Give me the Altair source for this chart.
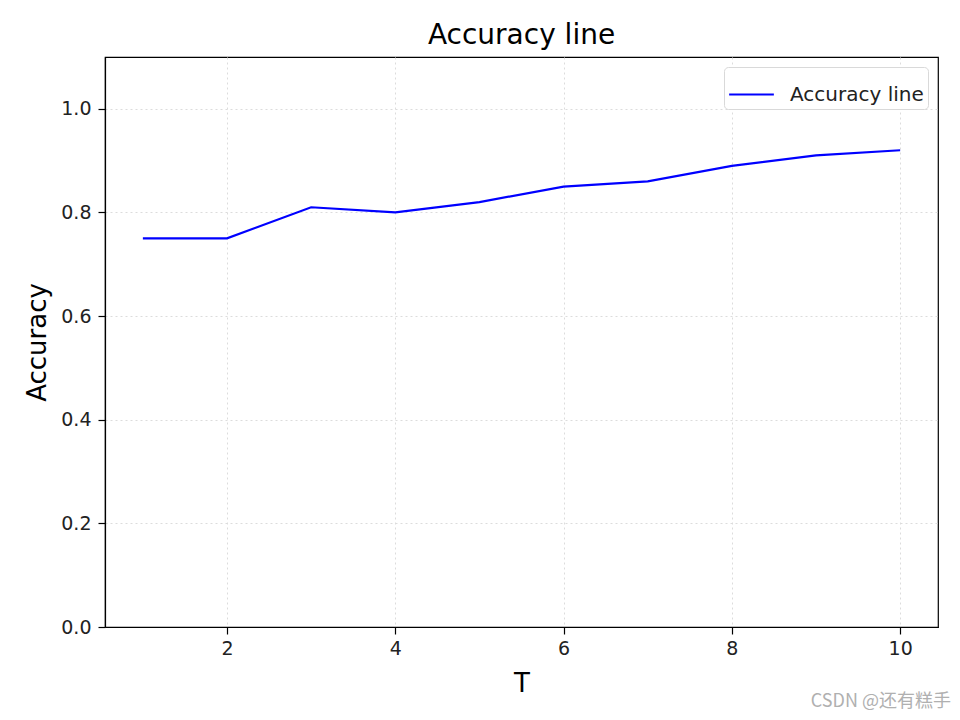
import altair as alt
import pandas as pd

t_values = [1, 2, 3, 4, 5, 6, 7, 8, 9, 10]
accuracy = [0.75, 0.75, 0.81, 0.80, 0.82, 0.85, 0.86, 0.89, 0.91, 0.92]
series_name = "Accuracy line"
x_ticks = [2, 4, 6, 8, 10]
y_ticks = [0.0, 0.2, 0.4, 0.6, 0.8, 1.0]

df = pd.DataFrame({"T": t_values, "Accuracy": accuracy, "series": [series_name] * len(t_values)})

FONT = "DejaVu Sans"

line = alt.Chart(df).mark_line(strokeWidth=2.2, clip=True).encode(
    x=alt.X("T:Q", scale=alt.Scale(domain=[0.55, 10.45], nice=False, zero=False),
            axis=alt.Axis(values=x_ticks, title="T", format="d")),
    y=alt.Y("Accuracy:Q", scale=alt.Scale(domain=[0, 1.1], nice=False),
            axis=alt.Axis(values=y_ticks, title="Accuracy", format=".1f")),
    color=alt.Color("series:N", scale=alt.Scale(range=["#0000ff"]),
                    legend=alt.Legend(title=None, orient="top-right", symbolType="stroke",
                                      symbolStrokeWidth=2.2, symbolSize=2000,
                                      labelFontSize=20, labelFont=FONT, labelColor="#222",
                                      labelOffset=15,
                                      strokeColor="#d9d9d9", fillColor="white",
                                      cornerRadius=4, padding=4, offset=10)),
)

wm = alt.Chart(pd.DataFrame({"w": ["CSDN @还有糕手"]})).mark_text(
    align="right", baseline="middle", fontSize=18, color="#b0b0b0",
    font="Noto Sans CJK SC", clip=False
).encode(text="w:N", x=alt.value(846), y=alt.value(645))

chart = alt.layer(line, wm).properties(
    width=833, height=570,
    title=alt.TitleParams("Accuracy line", fontSize=28, font=FONT, fontWeight="normal",
                          offset=7, color="black"),
    autosize=alt.AutoSizeParams(type="none"),
    padding={"left": 97, "top": 49, "right": 14, "bottom": 84},
).configure_view(stroke="black", strokeWidth=1.2).configure_axis(
    domain=True, domainColor="black", domainWidth=1.2,
    grid=True, gridColor="#dcdcdc", gridDash=[2, 3], gridWidth=1,
    tickColor="black", tickSize=7, tickWidth=1.2,
    labelFont=FONT, labelFontSize=19, labelColor="#222",
    titleFont=FONT, titleFontWeight="normal", titleFontSize=26, titleColor="black",
).configure_axisY(titlePadding=10, labelPadding=7).configure_axisX(titlePadding=12, labelPadding=5)

chart.save("out.html", embed_options={"renderer": "svg", "actions": False})
